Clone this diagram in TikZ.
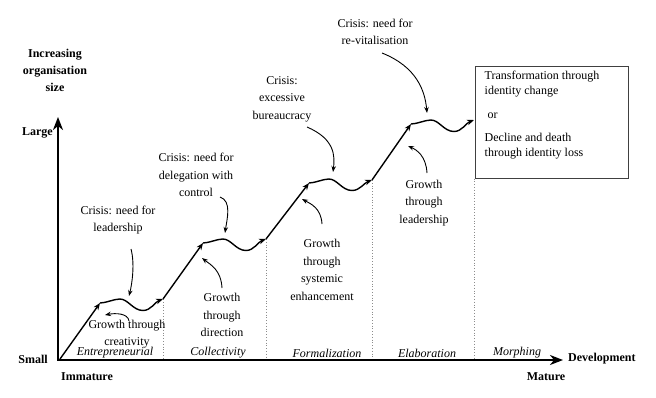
\documentclass[tikz,border=0pt]{standalone}
\usepackage{fontspec}
\setmainfont{Liberation Serif}
\usetikzlibrary{arrows.meta,calc}
\begin{document}
\begin{tikzpicture}[x=1pt,y=-1pt,
  lbl/.style={font=\fontsize{12}{17.5}\selectfont, align=center, inner sep=0pt},
  boxtxt/.style={font=\fontsize{12}{15}\selectfont, align=left, inner sep=0pt},
  axlbl/.style={font=\bfseries\fontsize{12}{17}\selectfont, inner sep=0pt},
  stage/.style={font=\itshape\fontsize{12}{14}\selectfont, inner sep=0pt},
  growpath/.style={line width=1.4pt, -{Stealth[length=7pt,width=5.5pt]}},
  callout/.style={line width=0.9pt, -{Stealth[length=6pt,width=4.5pt]}},
  axisline/.style={line width=1.9pt, {Stealth[length=13pt,width=10pt,inset=4pt]}-{Stealth[length=13pt,width=10pt,inset=4pt]}},
  divider/.style={black!45, dotted, line width=0.8pt},
  framebox/.style={draw=black!75, line width=1pt, minimum width=153pt, minimum height=112pt, inner sep=0pt},
]
\useasboundingbox (0,0) rectangle (656,397);

% key points
\coordinate (O) at (58,360);
\coordinate (ytip) at (58,117);
\coordinate (xtip) at (563,360);
\coordinate (p0) at (60,359);
\coordinate (p1) at (100,303);
\coordinate (q1) at (163,299);
\coordinate (p2) at (203,243);
\coordinate (q2) at (266,239);
\coordinate (p3) at (309,183);
\coordinate (q3) at (372,180);
\coordinate (p4) at (411,124);
\coordinate (q4) at (474,120);

% box
\node[framebox] (box) at (551.5,122) {};
\node[boxtxt, anchor=north west] (boxtext) at ($(box.north west)+(10,5)$)
  {Transformation through\\identity change\\[9pt]\hspace{3pt}or\\[8pt]Decline and death\\through identity loss};

% dividers
\draw[divider] (q1) -- (q1 |- O);
\draw[divider] (q2) -- (q2 |- O);
\draw[divider] (q3) -- (q3 |- O);
\draw[divider] (box.south west) -- (box.south west |- O);

% axes
\draw[axisline] (ytip) -- (O) -- (xtip);

% growth path
\draw[growpath] (p0) -- (p1);
\draw[growpath] (q1) -- (p2);
\draw[growpath] (q2) -- (p3);
\draw[growpath] (q3) -- (p4);
\foreach \a/\b in {p1/q1,p2/q2,p3/q3,p4/q4}{
  \draw[growpath] (\a) .. controls +(6,0) and +(-6,0) .. ++(20,-4)
    .. controls +(8,0) and +(-10,0) .. ++(23,11.5)
    .. controls +(8,0) and +(-8,3) .. (\b);
}

% axis labels
\node[axlbl, align=center] (ylabel) at (55,70) {Increasing\\organisation\\size};
\node[axlbl, anchor=east] (large) at (53,133) {Large};
\node[axlbl, anchor=east] (small) at (48,359) {Small};
\node[axlbl] (immature) at (87,377) {Immature};
\node[axlbl] (mature) at (546,377) {Mature};
\node[axlbl, anchor=west] (dev) at (568,359) {Development};

% stage labels
\node[stage] (s1) at (115,353) {Entrepreneurial};
\node[stage] (s2) at (218,353) {Collectivity};
\node[stage] (s3) at (327,353) {Formalization};
\node[stage] (s4) at (427,353) {Elaboration};
\node[stage] (s5) at (517,353) {Morphing};

% crisis labels
\node[lbl] (c1) at (118,220) {Crisis: need for\\leadership};
\node[lbl] (c2) at (196,175) {Crisis: need for\\delegation with\\control};
\node[lbl] (c3) at (282,99) {Crisis:\\excessive\\bureaucracy};
\node[lbl] (c4) at (375,32) {Crisis: need for\\re-vitalisation};

% growth labels
\node[lbl, font=\fontsize{12}{17}\selectfont] (g1) at (127,334) {Growth through\\creativity};
\node[lbl] (g2) at (222,315) {Growth\\through\\direction};
\node[lbl] (g3) at (322,270) {Growth\\through\\systemic\\enhancement};
\node[lbl] (g4) at (424,203) {Growth\\through\\leadership};

% callout ends
\coordinate (c1s) at (131,249); \coordinate (c1e) at (129,296);
\coordinate (c2s) at (220,197); \coordinate (c2e) at (225,233);
\coordinate (c3s) at (307,127); \coordinate (c3e) at (333,172);
\coordinate (c4s) at (382,53);  \coordinate (c4e) at (427,113);
\coordinate (g1s) at (129,321); \coordinate (g1e) at (105,315);
\coordinate (g2s) at (222,288); \coordinate (g2e) at (202,258);
\coordinate (g3s) at (322,224); \coordinate (g3e) at (302,199);
\coordinate (g4s) at (427,173); \coordinate (g4e) at (408,146);

\draw[callout] (c1s) .. controls +(4,15) and +(3,-12) .. (c1e);
\draw[callout] (c2s) .. controls +(12,4) and +(2,-14) .. (c2e);
\draw[callout] (c3s) .. controls +(28,12) and +(2,-16) .. (c3e);
\draw[callout] (c4s) .. controls +(35,14) and +(-2,-22) .. (c4e);
\draw[callout] (g1s) .. controls +(-1,-8) and +(10,-2) .. (g1e);
\draw[callout] (g2s) .. controls +(-1,-18) and +(9,7) .. (g2e);
\draw[callout] (g3s) .. controls +(-1,-16) and +(9,5) .. (g3e);
\draw[callout] (g4s) .. controls +(-1,-17) and +(9,4) .. (g4e);
\end{tikzpicture}
\end{document}
